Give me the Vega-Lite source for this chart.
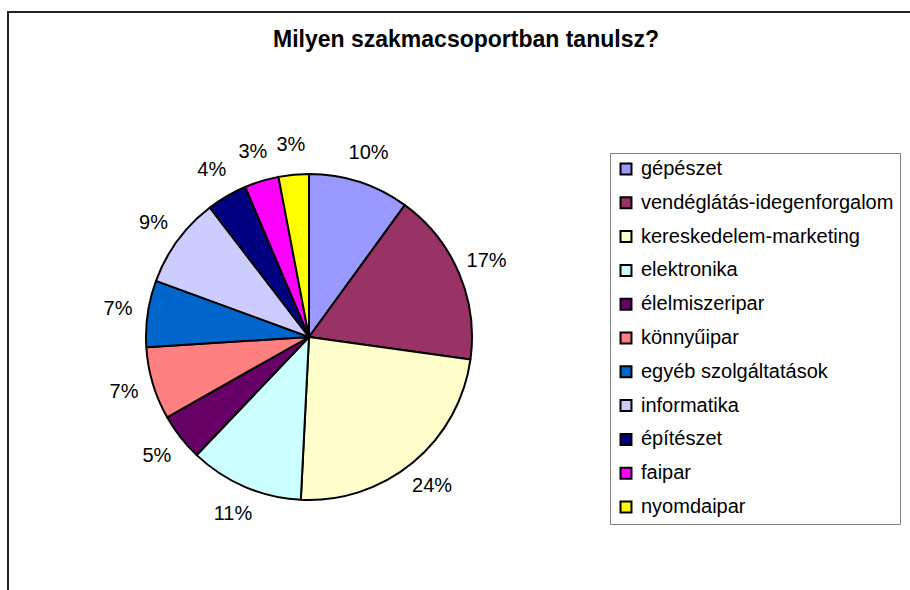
{
  "$schema": "https://vega.github.io/schema/vega-lite/v6.json",
  "width": 904,
  "height": 580,
  "autosize": {"type": "none"},
  "padding": {"left": 8, "top": 12, "right": 0, "bottom": 0},
  "background": "white",
  "view": {"stroke": "#222", "strokeWidth": 2, "fill": "white"},
  "config": {"view": {"stroke": "#222", "strokeWidth": 2}, "font": "Liberation Sans"},
  "title": {
    "text": "Milyen szakmacsoportban tanulsz?",
    "font": "Liberation Sans",
    "fontSize": 23,
    "fontWeight": "bold",
    "color": "#000",
    "anchor": "middle",
    "frame": "group",
    "baseline": "alphabetic",
    "offset": -58,
    "dx": 6
  },
  "data": {
    "values": [
      {"i": 1, "cat": "gépészet", "share": 0.100},
      {"i": 2, "cat": "vendéglátás-idegenforgalom", "share": 0.172},
      {"i": 3, "cat": "kereskedelem-marketing", "share": 0.236},
      {"i": 4, "cat": "elektronika", "share": 0.113},
      {"i": 5, "cat": "élelmiszeripar", "share": 0.047},
      {"i": 6, "cat": "könnyűipar", "share": 0.072},
      {"i": 7, "cat": "egyéb szolgáltatások", "share": 0.066},
      {"i": 8, "cat": "informatika", "share": 0.090},
      {"i": 9, "cat": "építészet", "share": 0.040},
      {"i": 10, "cat": "faipar", "share": 0.034},
      {"i": 11, "cat": "nyomdaipar", "share": 0.030}
    ]
  },
  "layer": [
    {
      "mark": {"type": "arc", "x": 301, "y": 325, "outerRadius": 163, "stroke": "#000", "strokeWidth": 2, "strokeJoin": "round"},
      "encoding": {
        "theta": {"field": "share", "type": "quantitative", "stack": true},
        "order": {"field": "i", "type": "quantitative"},
        "color": {
          "field": "cat",
          "type": "nominal",
          "sort": null,
          "scale": {
            "domain": ["gépészet", "vendéglátás-idegenforgalom", "kereskedelem-marketing", "elektronika", "élelmiszeripar", "könnyűipar", "egyéb szolgáltatások", "informatika", "építészet", "faipar", "nyomdaipar"],
            "range": ["#9999FF", "#993366", "#FFFFCC", "#CCFFFF", "#660066", "#FF8080", "#0066CC", "#CCCCFF", "#000080", "#FF00FF", "#FFFF00"]
          },
          "legend": {
            "orient": "none",
            "legendX": 602,
            "legendY": 141,
            "title": null,
            "symbolType": "square",
            "symbolSize": 120,
            "symbolStrokeColor": "#000",
            "symbolStrokeWidth": 2,
            "labelFontSize": 20,
            "labelFont": "Liberation Sans",
            "labelColor": "#000",
            "labelOffset": 5,
            "labelLimit": 400,
            "rowPadding": 13.8,
            "padding": 6,
            "strokeColor": "#808080",
            "fillColor": "#fff"
          }
        }
      }
    },
    {
      "mark": {"type": "text", "x": 301, "y": 325, "radius": 193, "fontSize": 20, "font": "Liberation Sans", "color": "#000", "align": "center", "baseline": "middle"},
      "encoding": {
        "theta": {"field": "share", "type": "quantitative", "stack": true},
        "order": {"field": "i", "type": "quantitative"},
        "detail": {"field": "cat", "type": "nominal"},
        "text": {"field": "share", "type": "quantitative", "format": ".0%"}
      }
    }
  ]
}
